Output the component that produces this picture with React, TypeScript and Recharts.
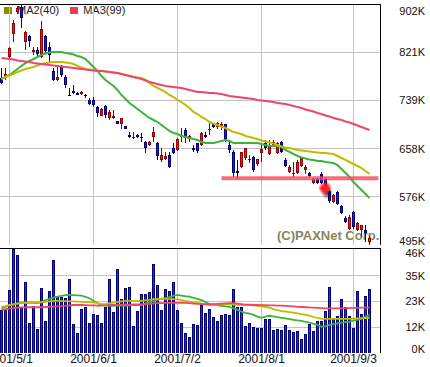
import React from 'react';
import { ComposedChart, Bar, Line, XAxis, YAxis, CartesianGrid, ReferenceLine, ReferenceDot } from 'recharts';

const FONT = '"Liberation Sans", Arial, sans-serif';

// ---- price candles (thousand won) ----
const opens = [
  777, 777, 813, 851, 889, 897, 838, 848, 821, 824,
  813, 848, 829, 789, 774, 796, 779, 749, 755, 752,
  750, 748, 740, 740, 728, 713, 730, 710, 710, 704,
  699, 696, 680, 675, 680, 677, 669, 664, 677, 667,
  639, 640, 647, 659, 655, 677, 689, 674, 659, 667,
  664, 680, 689, 699, 694, 696, 699, 664, 652, 620,
  627, 642, 639, 644, 632, 650, 667, 649, 664, 650,
  669, 639, 618, 616, 617, 628, 622, 617, 600, 606,
  615, 606, 586, 568, 585, 561, 541, 522, 551, 520,
  520, 520, 500,
];
const closes = [
  769, 784, 828, 870, 895, 878, 855, 840, 824, 818,
  860, 823, 816, 774, 779, 782, 765, 748, 752, 748,
  753, 746, 733, 731, 718, 725, 715, 720, 713, 699,
  710, 691, 678, 677, 678, 676, 659, 669, 686, 645,
  647, 645, 627, 650, 674, 681, 676, 679, 655, 654,
  684, 678, 691, 694, 701, 699, 674, 655, 617, 617,
  652, 659, 641, 622, 640, 657, 659, 662, 669, 667,
  652, 629, 627, 617, 635, 642, 627, 611, 606, 600,
  600, 593, 569, 579, 564, 549, 534, 542, 525, 532,
  529, 515, 507,
];
const highs = [
  794, 794, 829, 875, 899, 902, 856, 850, 829, 829,
  873, 850, 838, 794, 796, 799, 782, 760, 765, 753,
  755, 750, 743, 745, 730, 726, 731, 723, 723, 704,
  710, 696, 686, 686, 682, 684, 671, 671, 694, 669,
  659, 652, 652, 667, 676, 693, 693, 681, 664, 667,
  686, 686, 701, 701, 703, 703, 699, 669, 655, 639,
  652, 659, 647, 645, 640, 667, 672, 672, 672, 669,
  671, 642, 630, 635, 639, 644, 630, 618, 608, 608,
  618, 608, 588, 581, 586, 563, 544, 546, 552, 534,
  529, 529, 510,
];
const lows = [
  767, 774, 807, 838, 885, 862, 824, 829, 816, 813,
  811, 819, 802, 772, 772, 779, 760, 747, 750, 748,
  748, 743, 731, 728, 711, 713, 710, 706, 708, 699,
  691, 691, 676, 674, 676, 669, 650, 662, 669, 639,
  635, 639, 625, 649, 654, 669, 667, 669, 652, 650,
  662, 676, 681, 693, 691, 689, 669, 650, 610, 607,
  625, 639, 633, 618, 628, 635, 655, 647, 660, 649,
  650, 627, 617, 610, 615, 627, 615, 610, 598, 598,
  598, 588, 566, 566, 563, 547, 532, 520, 522, 519,
  508, 500, 495,
];

// ---- price moving averages ----
const ma1Values = [
  775.3, 778.7, 782.1, 787.2, 792.2, 797.3, 802.4, 805.7, 809.1, 812.5,
  815.9, 818.4, 820.1, 820.9, 820.9, 820.9, 819.3, 818.4, 816.7, 814.2,
  812.5, 809.1, 802.4, 795.6, 788.8, 780.4, 773.7, 768.6, 763.5, 756.8,
  748.3, 741.6, 734.8, 729.7, 724.7, 719.6, 714.6, 709.5, 706.1, 702.7,
  697.7, 692.6, 687.5, 684.1, 682.4, 679.1, 677.4, 675.7, 674.0, 672.3,
  668.9, 667.3, 667.3, 667.3, 668.9, 670.6, 672.3, 670.6, 667.3, 667.3,
  667.3, 667.3, 667.3, 667.3, 667.3, 665.6, 663.9, 662.2, 662.2, 662.2,
  660.5, 655.4, 652.1, 648.7, 645.3, 642.8, 641.1, 639.4, 638.6, 636.9,
  636.9, 635.2, 634.3, 633.5, 630.1, 623.3, 616.6, 609.8, 601.4, 594.6,
  587.9, 581.1, 574.4,
];
const ma2Values = [
  775.3, 778.7, 781.3, 783.8, 787.2, 789.7, 792.2, 793.9, 795.6, 798.1,
  800.7, 802.4, 803.2, 804.0, 804.0, 804.0, 803.2, 802.4, 800.7, 797.3,
  794.8, 792.2, 791.4, 790.5, 789.7, 788.8, 788.0, 787.2, 786.3, 785.5,
  783.8, 782.1, 780.4, 778.7, 777.9, 777.0, 773.7, 768.6, 763.5, 760.2,
  756.8, 753.4, 748.3, 744.9, 739.9, 736.5, 731.4, 726.4, 719.6, 716.2,
  711.2, 707.8, 702.7, 700.2, 697.7, 695.1, 692.6, 689.2, 685.8, 684.1,
  682.4, 679.1, 677.4, 675.7, 674.0, 671.5, 669.8, 668.1, 666.4, 663.9,
  661.3, 659.7, 658.8, 657.1, 655.4, 654.6, 653.7, 652.9, 652.1, 651.2,
  650.4, 650.4, 649.5, 648.7, 645.3, 641.9, 638.6, 635.2, 631.8, 628.4,
  625.0, 620.0, 614.9,
];
const ma3Values = [
  810.8, 809.9, 809.1, 808.3, 806.6, 805.7, 804.9, 804.0, 802.4, 801.5,
  800.7, 799.8, 799.0, 798.1, 797.3, 796.4, 795.6, 794.8, 793.9, 793.1,
  792.2, 791.4, 790.5, 789.7, 788.8, 788.8, 788.0, 787.2, 786.3, 785.5,
  783.8, 782.1, 780.4, 778.7, 777.0, 775.3, 772.8, 770.3, 768.6, 766.9,
  765.2, 763.5, 762.7, 761.8, 761.0, 760.2, 758.5, 756.8, 755.1, 753.4,
  753.4, 752.6, 751.7, 751.7, 750.9, 750.0, 748.3, 746.6, 745.8, 744.9,
  744.1, 743.2, 742.4, 741.6, 739.9, 739.0, 738.2, 737.3, 736.5, 734.8,
  734.0, 733.1, 731.4, 729.7, 728.0, 726.4, 723.8, 722.1, 720.5, 717.9,
  716.2, 713.7, 712.0, 709.5, 707.8, 706.1, 703.6, 701.9, 699.3, 696.8,
  694.3, 691.7, 689.2,
];

// ---- volume (thousand shares) ----
const volumes = [
  19.2, 19.7, 28.1, 46.4, 43.8, 20.5, 31.7, 13.4, 21.0, 10.7,
  29.0, 14.3, 27.7, 41.5, 25.5, 25.0, 24.6, 33.1, 13.0, 8.9,
  19.7, 20.5, 13.4, 17.4, 17.0, 13.4, 20.5, 33.1, 18.3, 37.5,
  24.1, 29.0, 29.5, 12.1, 18.8, 26.4, 26.4, 27.2, 39.8, 30.4,
  19.2, 28.6, 27.7, 31.7, 19.2, 13.4, 8.9, 7.1, 13.0, 12.5,
  21.4, 18.0, 19.7, 16.2, 14.3, 17.0, 17.4, 17.0, 28.6, 20.7,
  20.7, 12.2, 13.3, 11.6, 11.3, 11.3, 15.2, 15.2, 10.3, 10.7,
  10.3, 12.5, 10.3, 9.2, 9.8, 6.3, 8.5, 12.8, 9.8, 14.3,
  14.3, 18.8, 29.2, 15.5, 16.7, 24.1, 20.7, 16.5, 11.3, 27.7,
  17.3, 25.5, 28.6,
];
const volMa1 = [
  19.9, 20.6, 21.2, 21.7, 22.1, 22.4, 22.6, 22.5, 22.3, 22.2,
  22.8, 23.6, 24.1, 24.7, 25.1, 25.5, 25.8, 25.9, 25.8, 25.7,
  25.6, 25.0, 24.4, 23.3, 22.2, 21.4, 21.2, 21.0, 21.0, 21.1,
  21.1, 21.1, 21.2, 21.3, 21.3, 21.4, 22.0, 22.7, 23.1, 23.7,
  24.2, 24.4, 25.0, 25.5, 25.9, 25.6, 25.3, 25.1, 24.6, 24.1,
  23.6, 22.7, 21.8, 21.5, 21.2, 21.0, 20.8, 20.6, 19.9, 19.2,
  18.4, 17.9, 17.5, 17.0, 16.2, 15.7, 16.2, 16.6, 16.3, 16.0,
  15.7, 15.4, 15.1, 14.8, 14.5, 14.3, 13.9, 13.5, 13.0, 12.5,
  11.7, 12.0, 12.5, 12.9, 13.2, 13.5, 13.8, 14.0, 14.4, 14.9,
  15.2, 16.1, 16.9,
];
const volMa2 = [
  20.4, 20.9, 21.4, 21.7, 22.0, 22.2, 22.4, 22.4, 22.5, 22.5,
  22.6, 22.8, 23.0, 23.2, 23.2, 23.1, 23.1, 23.0, 23.0, 22.9,
  22.8, 22.7, 22.7, 22.6, 22.2, 21.8, 21.9, 22.2, 22.5, 22.8,
  23.0, 23.2, 23.2, 23.2, 23.2, 23.2, 23.5, 23.7, 24.0, 24.1,
  24.1, 24.1, 24.0, 24.0, 24.0, 23.6, 23.2, 22.9, 22.6, 22.3,
  22.0, 21.6, 21.4, 21.5, 21.6, 21.7, 21.7, 21.7, 21.6, 21.5,
  21.4, 21.4, 21.4, 21.2, 21.0, 20.8, 20.5, 20.2, 19.6, 19.1,
  18.7, 18.5, 18.2, 18.0, 17.7, 17.3, 17.0, 16.6, 16.1, 15.6,
  15.2, 15.2, 15.2, 15.2, 15.2, 15.2, 15.2, 15.2, 15.3, 15.4,
  15.5, 15.6, 15.7,
];
const volMa3 = [
  19.2, 19.5, 19.8, 20.0, 20.2, 20.3, 20.3, 20.4, 20.4, 20.4,
  20.4, 20.5, 20.6, 20.7, 20.8, 20.9, 21.0, 21.2, 21.4, 21.4,
  21.4, 21.3, 21.2, 21.2, 21.1, 21.1, 21.2, 21.4, 21.4, 21.5,
  21.5, 21.6, 21.6, 21.7, 21.7, 21.7, 21.7, 21.9, 22.1, 22.2,
  22.2, 22.3, 22.3, 22.3, 22.3, 22.3, 22.3, 22.2, 22.0, 21.9,
  21.8, 21.8, 21.8, 21.8, 21.9, 22.0, 22.1, 22.2, 22.2, 22.0,
  21.8, 21.6, 21.5, 21.4, 21.4, 21.3, 21.3, 21.2, 21.2, 21.1,
  21.1, 21.0, 20.9, 20.8, 20.6, 20.5, 20.4, 20.3, 20.2, 20.1,
  20.0, 19.9, 19.9, 19.9, 19.9, 19.9, 20.0, 20.0, 20.1, 20.1,
  20.2, 20.2, 20.2,
];

// ---- axes ----
const dateTickIndex = [2, 23, 44, 65, 88];
const dateTickLabels = ['2001/5/1', '2001/6/1', '2001/7/2', '2001/8/1', '2001/9/3'];
const priceTicks = [495, 576.4, 657.8, 739.2, 820.6, 902];
const priceGridValues = [576.4, 657.8, 739.2, 820.6];
const volumeTicks = [0, 11.5, 23, 34.5, 46];
const volumeGridValues = [11.5, 23, 34.5];
const X_DOMAIN: [number, number] = [-0.375, 94.625];
const PRICE_DOMAIN: [number, number] = [495, 902];
const VOL_DOMAIN: [number, number] = [0, 46.8];

// ---- annotations ----
const supportLine = { from: 55, to: 94.2, price: 607.6 };
const markerPoints = [{ idx: 80.9, price: 591 }];
const legendItems = [
  { label: 'MA2(40)', color: '#8c8c00' },
  { label: 'MA3(99)', color: '#ee3a5a' },
];
const copyright = '(C)PAXNet Corp.';

const priceData = opens.map((open, i) => ({
  idx: i,
  open,
  close: closes[i],
  high: highs[i],
  low: lows[i],
  range: [lows[i], highs[i]],
  ma1: ma1Values[i],
  ma2: ma2Values[i],
  ma3: ma3Values[i],
}));
const volumeData = volumes.map((vol, i) => ({
  idx: i,
  vol,
  vma1: volMa1[i],
  vma2: volMa2[i],
  vma3: volMa3[i],
}));

const Candle = (props: any) => {
  const { x, y, width, height, payload } = props;
  if (x == null || y == null) return null;
  const top = Math.min(y, y + height);
  const h = Math.abs(height);
  const { open, close, high, low } = payload;
  const span = high - low;
  const toY = (v: number) => (span > 0 ? top + ((high - v) / span) * h : top);
  const up = close >= open;
  const dark = up ? '#9a0000' : '#00007a';
  const bright = up ? '#e81818' : '#1c1ce0';
  const bTop = toY(Math.max(open, close));
  const bBot = toY(Math.min(open, close));
  const bH = Math.max(1, bBot - bTop);
  const cx = x + width / 2;
  return (
    <g shapeRendering="crispEdges">
      <rect x={cx - 0.5} y={top} width={1} height={Math.max(1, h)} fill={dark} />
      <rect x={x} y={bTop} width={width} height={bH} fill={dark} />
      {bH > 2 && <rect x={x + 1} y={bTop + 1} width={width - 2} height={bH - 2} fill={bright} />}
    </g>
  );
};

const VolBar = (props: any) => {
  const { x, y, width, height } = props;
  if (x == null || !height || height <= 0) return null;
  return (
    <g shapeRendering="crispEdges">
      <rect x={x} y={y} width={width} height={height} fill="#000078" />
      <rect x={x + 1} y={y + 1} width={Math.max(0, width - 2)} height={Math.max(0, height - 1)} fill="#2a2ad0" />
    </g>
  );
};

const Sparkle = (props: any) => {
  const { cx, cy } = props;
  if (cx == null) return null;
  const s = 6;
  const star = `M${cx},${cy - s} L${cx + 1.5},${cy - 1.5} L${cx + s},${cy} L${cx + 1.5},${cy + 1.5} L${cx},${cy + s} L${cx - 1.5},${cy + 1.5} L${cx - s},${cy} L${cx - 1.5},${cy - 1.5} Z`;
  return (
    <g>
      <defs>
        <radialGradient id="sparkShadow">
          <stop offset="0%" stopColor="#000" stopOpacity={0.75} />
          <stop offset="100%" stopColor="#000" stopOpacity={0} />
        </radialGradient>
        <radialGradient id="sparkCore">
          <stop offset="0%" stopColor="#ff7070" stopOpacity={1} />
          <stop offset="45%" stopColor="#ff1010" stopOpacity={0.9} />
          <stop offset="100%" stopColor="#ff0000" stopOpacity={0} />
        </radialGradient>
      </defs>
      <circle cx={cx + 2} cy={cy + 5} r={6} fill="url(#sparkShadow)" />
      <circle cx={cx} cy={cy} r={7} fill="url(#sparkCore)" />
      <path d={star} fill="#ff2020" />
    </g>
  );
};

const makeYTick = (domain: [number, number], topDy: number, bottomDy: number) => (props: any) => {
  const { x, y, payload } = props;
  const v = payload.value;
  let dy = 0;
  if (v >= domain[1] - 1) dy = topDy;
  else if (v <= domain[0]) dy = bottomDy;
  return (
    <text x={x + 45} y={y + dy} textAnchor="end" dominantBaseline="central" fontSize={11} fontFamily={FONT} fill="#111">
      {Math.round(v)}K
    </text>
  );
};
const PriceTick = makeYTick([495, 902], 6.5, -4);
const VolTick = makeYTick([0, 46.8], 3.5, -4.5);

const DateTick = (props: any) => {
  const { x, y, payload } = props;
  const k = dateTickIndex.indexOf(payload.value);
  return (
    <text x={x} y={y + 6} textAnchor="middle" dominantBaseline="central" fontSize={12} fontFamily={FONT} fill="#111">
      {k >= 0 ? dateTickLabels[k] : ''}
    </text>
  );
};

export default function App() {
  return (
    <div style={{ position: 'absolute', left: 0, top: 0, width: 430, height: 367, background: '#fff', fontFamily: FONT }}>
      <div style={{ position: 'absolute', left: 4, top: 4, height: 12, display: 'flex', alignItems: 'center' }}>
        {legendItems.map((it) => (
          <div key={it.label} style={{ display: 'flex', alignItems: 'center', marginRight: 11 }}>
            <div style={{ width: 8, height: 7, background: it.color, marginRight: 5 }} />
            <span style={{ fontSize: 11, color: '#222', lineHeight: '12px' }}>{it.label}</span>
          </div>
        ))}
      </div>
      <div style={{ position: 'absolute', left: 277, top: 229, fontSize: 13, fontWeight: 'bold', color: '#86865a', lineHeight: '14px', whiteSpace: 'nowrap' }}>
        {copyright}
      </div>

      <div style={{ position: 'absolute', left: 0, top: 0 }}>
        <ComposedChart width={430} height={251} data={priceData} margin={{ top: 4, right: 0, bottom: 6, left: 0 }}>
          <CartesianGrid stroke="#c4c4c4" horizontalValues={priceGridValues} verticalValues={dateTickIndex} shapeRendering="crispEdges" />
          <XAxis dataKey="idx" type="number" domain={X_DOMAIN} allowDataOverflow ticks={dateTickIndex} hide />
          <YAxis
            orientation="right"
            width={50}
            domain={PRICE_DOMAIN}
            allowDataOverflow
            ticks={priceTicks}
            tick={PriceTick}
            tickLine={false}
            tickSize={0}
            tickMargin={0}
            axisLine={{ stroke: '#000', shapeRendering: 'crispEdges' }}
            interval={0}
          />
          <ReferenceLine y={PRICE_DOMAIN[1]} stroke="#000" shapeRendering="crispEdges" />
          <Line dataKey="ma1" stroke="#3cb43c" strokeWidth={2} dot={false} isAnimationActive={false} />
          <Line dataKey="ma2" stroke="#c2bc00" strokeWidth={2} dot={false} isAnimationActive={false} />
          <Line dataKey="ma3" stroke="#f0456a" strokeWidth={2} dot={false} isAnimationActive={false} />
          <Bar dataKey="range" barSize={3} shape={Candle} isAnimationActive={false} />
          <ReferenceLine
            segment={[{ x: supportLine.from, y: supportLine.price }, { x: supportLine.to, y: supportLine.price }]}
            stroke="#f5465c"
            strokeOpacity={0.8}
            strokeWidth={4}
          />
          {markerPoints.map((p) => (
            <ReferenceDot key={p.idx} x={p.idx} y={p.price} r={6} shape={Sparkle} />
          ))}
        </ComposedChart>
      </div>

      <div style={{ position: 'absolute', left: 0, top: 240 }}>
        <ComposedChart width={430} height={127} data={volumeData} margin={{ top: 8, right: 0, bottom: 0, left: 0 }}>
          <CartesianGrid stroke="#c4c4c4" horizontalValues={volumeGridValues} verticalValues={dateTickIndex} shapeRendering="crispEdges" />
          <XAxis
            dataKey="idx"
            type="number"
            domain={X_DOMAIN}
            allowDataOverflow
            ticks={dateTickIndex}
            tick={DateTick}
            tickLine={false}
            tickSize={0}
            tickMargin={0}
            axisLine={false}
            height={14}
            interval={0}
          />
          <YAxis
            orientation="right"
            width={50}
            domain={VOL_DOMAIN}
            allowDataOverflow
            ticks={volumeTicks}
            tick={VolTick}
            tickLine={false}
            tickSize={0}
            tickMargin={0}
            axisLine={{ stroke: '#000', shapeRendering: 'crispEdges' }}
            interval={0}
          />
          <ReferenceLine y={VOL_DOMAIN[1]} stroke="#000" shapeRendering="crispEdges" />
          <Bar dataKey="vol" barSize={3} shape={VolBar} isAnimationActive={false} />
          <Line dataKey="vma1" stroke="#3cb43c" strokeWidth={1.8} dot={false} isAnimationActive={false} />
          <Line dataKey="vma2" stroke="#c2bc00" strokeWidth={1.8} dot={false} isAnimationActive={false} />
          <Line dataKey="vma3" stroke="#f0456a" strokeWidth={1.8} dot={false} isAnimationActive={false} />
        </ComposedChart>
      </div>
    </div>
  );
}
